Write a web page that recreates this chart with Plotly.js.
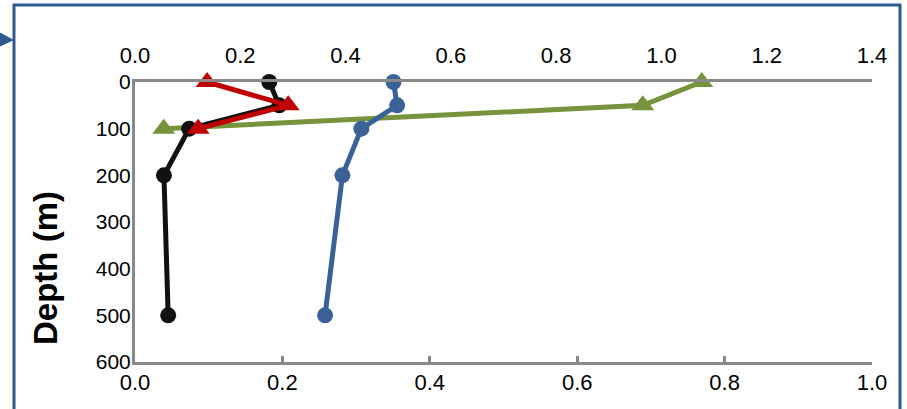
<!DOCTYPE html>
<html>
<head>
<meta charset="utf-8">
<script src="https://cdn.plot.ly/plotly-3.0.1.min.js"></script>
<style>html,body{margin:0;padding:0;background:#fff;}#chart{width:907px;height:409px;}</style>
</head>
<body>
<div id="chart"></div>
<script>
// Depths (m)
const depthBlack = [0, 50, 100, 200, 500];
const valBlack   = [0.255, 0.274, 0.103, 0.055, 0.063];   // top axis (0-1.4)
const depthRed   = [0, 50, 100];
const valRed     = [0.137, 0.291, 0.120];                 // top axis
const depthBlue  = [0, 50, 100, 200, 500];
const valBlue    = [0.491, 0.498, 0.430, 0.394, 0.361];   // top axis
const depthGreen = [0, 50, 100];
const valGreen   = [0.769, 0.689, 0.039];                 // bottom axis (0-1.0)

const topTicks = [0, 0.2, 0.4, 0.6, 0.8, 1.0, 1.2, 1.4];
const topTickText = ["0.0","0.2","0.4","0.6","0.8","1.0","1.2","1.4"];
const botTicks = [0, 0.2, 0.4, 0.6, 0.8, 1.0];
const botTickText = ["0.0","0.2","0.4","0.6","0.8","1.0"];
const depthTicks = [0, 100, 200, 300, 400, 500, 600];

const FONT = "Liberation Sans, Arial, sans-serif";
const AX = "#898989";

const traces = [
  {x: valBlack, y: depthBlack, xaxis: 'x2', yaxis: 'y', mode: 'lines+markers', cliponaxis: false,
   line: {color: '#111111', width: 5}, marker: {symbol: 'circle', size: 16, color: '#111111'}},
  {x: valBlue, y: depthBlue, xaxis: 'x2', yaxis: 'y', mode: 'lines+markers', cliponaxis: false,
   line: {color: '#3A6299', width: 5}, marker: {symbol: 'circle', size: 16, color: '#3A6299'}},
  {x: valGreen, y: depthGreen, xaxis: 'x', yaxis: 'y', mode: 'lines+markers', cliponaxis: false,
   line: {color: '#77933C', width: 5}, marker: {symbol: 'triangle-up', size: 20, color: '#77933C'}},
  {x: valRed, y: depthRed, xaxis: 'x2', yaxis: 'y', mode: 'lines+markers', cliponaxis: false,
   line: {color: '#C00000', width: 5}, marker: {symbol: 'triangle-up', size: 20, color: '#C00000'}}
];

const px = v => (v - 135) / 737;
const py = v => (362 - v) / 280;

const layout = {
  width: 907, height: 409,
  margin: {l: 135, r: 35, t: 82, b: 47},
  paper_bgcolor: '#ffffff', plot_bgcolor: '#ffffff',
  showlegend: false,
  font: {family: FONT, size: 20, color: '#000'},
  xaxis: {
    range: [0, 1.0], side: 'bottom', anchor: 'y',
    tickvals: botTicks, ticktext: botTickText,
    showgrid: false, zeroline: false,
    showline: true, linecolor: AX, linewidth: 3,
    ticks: 'inside', ticklen: 6, tickwidth: 3, tickcolor: AX,
    ticklabelstandoff: -1,
    tickfont: {family: FONT, size: 22, color: '#000'}
  },
  xaxis2: {
    range: [0, 1.4], side: 'top', overlaying: 'x', anchor: 'y',
    tickvals: topTicks, ticktext: topTickText,
    showgrid: false, zeroline: false,
    showline: true, linecolor: AX, linewidth: 3,
    ticks: '', ticklabelstandoff: 7,
    tickfont: {family: FONT, size: 22, color: '#000'}
  },
  yaxis: {
    range: [600, 0], tickvals: depthTicks,
    showgrid: false, zeroline: false,
    showline: true, linecolor: AX, linewidth: 3,
    ticks: '', ticklabelstandoff: -3,
    tickfont: {family: FONT, size: 21, color: '#000'}
  },
  annotations: [
    {text: '<b>Depth (m)</b>', xref: 'paper', yref: 'paper', x: px(45), y: py(268),
     xanchor: 'center', yanchor: 'middle', textangle: -90, showarrow: false,
     font: {family: FONT, size: 33, color: '#000'}}
  ],
  shapes: [
    {type: 'rect', xref: 'paper', yref: 'paper', x0: px(14), x1: px(900), y0: py(420), y1: py(5),
     line: {color: '#2E5A91', width: 3}, fillcolor: 'rgba(0,0,0,0)', layer: 'below'},
    {type: 'path', xref: 'paper', yref: 'paper',
     path: 'M ' + px(0) + ' ' + py(33) + ' L ' + px(13) + ' ' + py(40) + ' L ' + px(0) + ' ' + py(46) + ' Z',
     fillcolor: '#2E5A91', line: {color: '#2E5A91', width: 1}}
  ]
};

Plotly.newPlot('chart', traces, layout, {displayModeBar: false, staticPlot: true});
</script>
</body>
</html>
